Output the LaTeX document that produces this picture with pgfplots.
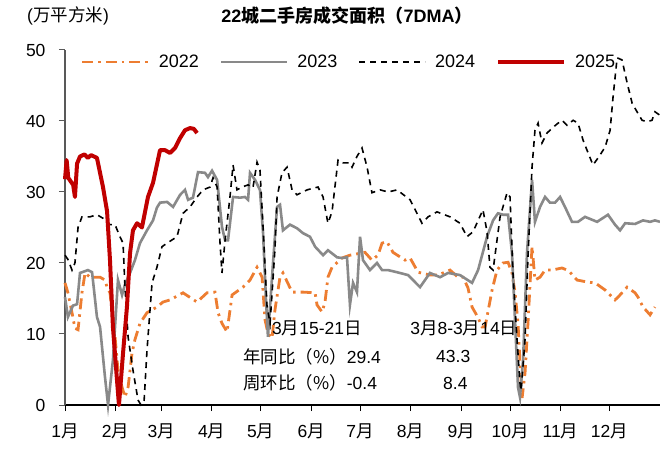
\documentclass[border=0pt]{standalone}
\usepackage{fontspec}
\setmainfont{Liberation Sans}
\newfontfamily\cjk{Noto Sans CJK SC}
\usepackage{pgfplots}
\pgfplotsset{compat=1.18}
\definecolor{c22}{HTML}{ED7D31}
\definecolor{c23}{HTML}{898989}
\definecolor{c25}{HTML}{C00000}
\definecolor{axgray}{HTML}{595959}

\begin{document}
\begin{tikzpicture}
\useasboundingbox (0bp,0bp) rectangle (660bp,450bp);
\begin{axis}[
    at={(65bp,45bp)}, anchor=south west,
    scale only axis, width=595bp, height=355bp,
    xmin=0, xmax=365, ymin=0, ymax=50,
    axis x line=bottom, axis y line=left,
    x axis line style={-, black, line width=1.2bp},
    y axis line style={-, axgray, line width=1.2bp},
    tick align=outside,
    major tick length=6bp,
    xtick={0,31,59,90,120,151,181,212,243,273,304,334},
    xticklabels={1{\cjk 月},2{\cjk 月},3{\cjk 月},4{\cjk 月},5{\cjk 月},6{\cjk 月},7{\cjk 月},8{\cjk 月},9{\cjk 月},10{\cjk 月},11{\cjk 月},12{\cjk 月}},
    x tick style={black, line width=1bp},
    y tick style={axgray, line width=1bp},
    ytick={0,10,...,50},
    xticklabel style={font=\fontsize{17.5bp}{19bp}\selectfont, yshift=-9bp},
    yticklabel style={font=\fontsize{17.5bp}{19bp}\selectfont, xshift=-10bp},
    /pgf/number format/assume math mode=true,
    clip=false,
    legend columns=4,
    legend image code/.code={\draw[#1] (0bp,0bp) -- (66bp,0bp);},
    legend style={at={(axis cs:9.8,48.3)}, anchor=west, draw=none, fill=none,
        inner sep=0pt, outer sep=0pt,
        font=\fontsize{18bp}{20bp}\selectfont,
        nodes={inner sep=4bp},
        /tikz/every odd column/.append style={column sep=5bp},
        /tikz/every even column/.append style={column sep=17bp}},
]

\addplot[c22, line width=2.8bp, dash pattern=on 11bp off 5bp on 2.5bp off 5bp] coordinates {
(0,17.2)(1.8,15.8)(4.3,13.0)(6.1,10.8)(8,10.6)(10.4,15.8)(12.3,18.6)(15.3,18.0)(21.5,18.0)
(24.5,17.6)(25.8,16.6)(27.6,15.8)(30.7,9.6)(32.5,4.9)(35,2.5)(36.8,1.1)(38.7,2.5)(41.1,7.3)
(42.9,9.2)(46,11.5)(50.3,13.0)(56.4,13.8)(60.1,14.5)(64.4,14.8)(72.4,15.8)(81,14.5)(87.1,15.8)
(92,15.9)(93.9,13.0)(96.3,11.5)(99.4,10.3)(102.5,15.5)(109.2,16.6)(113.5,17.6)(117.8,19.4)
(120.9,18.0)(122.7,12.0)(124.5,10.1)(127,9.4)(128.8,13.4)(131.9,18.0)(133.7,18.6)(139.3,15.9)
(146,15.9)(153.4,15.8)(154.6,14.1)(157.7,13.1)(159.5,14.5)(161.3,18.0)(163.8,19.4)(169.9,20.7)
(174.8,21.1)(184,21.5)(188.3,20.4)(192,21.1)(194.5,22.8)(197.5,23.0)(201.2,21.5)(208.6,20.4)
(211.7,20.7)(216.6,18.7)(223.9,18.3)(228.8,18.3)(236.2,19.0)(241.1,18.0)(244.2,18.0)(247.2,16.5)
(249.7,13.8)(253.4,12.3)(255.8,11.0)(257.7,11.0)(262,16.2)(265,19.0)(268.7,20.0)(271.8,20.1)
(274.2,18.6)(276.1,15.8)(277.9,11.5)(279.1,6.0)(280.4,1.0)(282.2,4.5)(284,11.5)(286.5,22.3)
(287.1,20.8)(288.3,17.6)(291.4,18.0)(294.5,19.0)(298.8,19.0)(304.9,19.3)(308,19.0)(309.8,18.7)
(314.1,17.6)(320.9,17.3)(325.2,17.2)(331.3,16.2)(337.4,14.8)(339.3,15.2)(344.8,16.6)(349.7,15.8)
(351.5,15.2)(354.6,13.8)(358.9,12.7)(361.9,13.8)
};
\addlegendentry{2022}

\addplot[c23, line width=2.6bp] coordinates {
(0,15.2)(1.8,12.4)(4.9,14.0)(7.4,14.2)(9.2,18.6)(14.1,19.0)(16.6,18.7)(19.6,12.4)(21.5,11.0)
(24.5,4.0)(26.4,0)(29.4,6.3)(32.5,17.6)(35,15.5)(36.8,17.0)(39.9,18.6)(42.9,20.4)(46,22.8)
(50.3,24.6)(54,26.0)(56.4,27.8)(58.3,28.5)(62.6,28.6)(66.3,27.9)(70.6,29.6)(73.6,30.3)(75.5,28.9)
(78.5,29.2)(81.6,32.8)(85.9,32.7)(87.7,32.1)(90.2,33.0)(93.3,31.7)(96.3,25.1)(98.2,23.2)
(100,23.2)(103.1,29.3)(107.4,29.2)(110.4,29.3)(112.3,28.9)(113.5,32.7)(116.6,31.7)(119.6,30.3)
(121.5,24.2)(123.3,14.8)(124.5,9.6)(127.6,20.0)(130.1,27.9)(131.9,28.2)(133.7,24.6)(138,25.4)
(142.3,24.9)(146,24.2)(150.3,23.7)(153.4,22.3)(158.3,21.1)(161.3,21.8)(166.9,20.8)(169.9,20.7)
(173,20.8)(174.8,14.1)(176.7,17.2)(179.1,15.9)(181,23.7)(182.8,20.4)(187.1,19.0)(191.4,20.0)
(194.5,19.0)(198.2,19.0)(203.7,18.7)(210.4,18.3)(217.8,16.6)(223.9,18.6)(230.1,18.0)(235,18.6)
(242.3,18.3)(249.7,17.2)(253.4,19.0)(258.9,23.7)(262.6,26.0)(265.6,27.0)(268.7,26.8)(271.8,26.8)
(274.2,21.4)(277.9,2.5)(279.1,1.1)(281,6.3)(283.4,21.4)(286.5,31.7)(288.3,25.8)(291.4,27.9)
(294.5,29.3)(297.5,28.5)(300.6,28.5)(303.7,29.3)(306.7,27.9)(311,25.8)(314.7,25.8)(319,26.5)
(326.4,25.8)(333.1,26.8)(337.4,25.4)(340.5,24.6)(343.6,25.6)(349.7,25.5)(354.6,26.0)(358.9,25.8)
(361.9,26.0)(365,25.8)
};
\addlegendentry{2023}

\addplot[black, line width=1.6bp, dash pattern=on 6bp off 5bp] coordinates {
(0,21.1)(1.8,20.5)(4.3,19.0)(6.1,20.0)(8,25.0)(10.4,26.5)(15.3,26.5)(19.6,26.8)(23.3,26.3)
(27.6,25.4)(30.7,25.4)(33.7,23.7)(35.6,22.8)(36.8,16.6)(38.7,9.6)(41.7,4.9)(44.8,0.7)(46.6,0)
(48.5,0.5)(50.3,7.7)(53.4,17.2)(56.4,19.4)(59.5,22.3)(62.6,22.8)(68.7,23.7)(72.4,27.0)(76.7,27.9)
(81,29.3)(84.7,30.3)(89,30.7)(90.8,32.0)(93.3,30.7)(95.1,22.8)(96.3,18.6)(98.2,23.2)(101.2,29.3)
(103.1,33.8)(105.5,30.3)(108.6,30.7)(112.3,31.0)(115.3,30.6)(117.8,34.2)(119.6,33.1)(121.5,25.1)
(123.9,14.0)(125.8,11.5)(128.8,22.0)(130.1,29.3)(133.1,32.7)(136.2,33.5)(139.3,30.3)(142.3,29.6)
(148.5,30.3)(155.2,30.7)(158.3,29.3)(161.3,25.6)(163.8,27.2)(167.5,34.5)(170.6,34.1)(174.8,34.1)
(176.1,33.5)(179.1,35.0)(182.2,36.2)(185.3,33.5)(188.3,29.9)(193.3,30.3)(198.2,30.0)(203.7,30.3)
(211.7,28.9)(219,25.6)(222.7,26.5)(228.2,27.2)(236.2,26.5)(242.3,25.6)(246.6,23.7)(250.3,24.4)
(256.4,27.5)(258.9,24.4)(260.7,19.4)(262.6,19.0)(265,23.2)(266.9,26.5)(271.2,29.9)(273,29.3)
(274.8,18.6)(277.3,9.2)(279.1,3.1)(279.8,2.0)(282.2,9.2)(284,20.8)(286.5,33.5)(288.3,38.7)
(290.2,39.7)(292.6,36.9)(295.7,38.3)(298.8,39.0)(302.5,39.7)(304.9,40.1)(308,39.4)(311.7,40.1)
(314.7,39.7)(317.8,37.3)(320.9,35.5)(323.9,33.8)(327,34.8)(331.3,36.3)(334.4,38.7)(336.2,43.4)
(338.7,48.9)(341.7,48.6)(344.8,45.4)(347.9,42.5)(350.9,41.3)(354,40.1)(357.1,39.9)(360.1,40.1)
(361.9,41.3)(365,40.8)
};
\addlegendentry{2024}

\addplot[c25, line width=4bp, line join=round] coordinates {
(0,31.8)(1,34.5)(2,32.0)(3.5,31.5)(5,31.0)(6.1,29.3)(7.4,34.0)(9.2,35.0)(12,35.3)(14,34.8)
(16,35.2)(19.6,34.8)(23.3,30.7)(25.8,27.3)(27.6,20.4)(29.4,11.0)(31.9,3.5)(33.1,0)(35.6,7.3)
(38,13.8)(39.9,21.4)(41.7,24.6)(44.2,25.6)(47.2,25.0)(50.9,29.3)(54,31.3)(58.3,35.9)(61.3,35.9)
(64.4,35.5)(67.5,36.2)(70.6,37.6)(73.6,38.7)(76.7,39.0)(79,38.9)(81,38.3)
};
\addlegendentry{2025}

\begin{scope}[font=\fontsize{17.5bp}{19bp}\selectfont]
\node[anchor=west, inner sep=0pt] at (axis cs:127,10.8) {3{\cjk 月}15-21{\cjk 日}};
\node[anchor=west, inner sep=0pt] at (axis cs:211.7,10.8) {3{\cjk 月}8-3{\cjk 月}14{\cjk 日}};
\node[anchor=west, inner sep=0pt] at (axis cs:109.2,6.8) {{\cjk 年同比（\%）}29.4};
\node[anchor=west, inner sep=0pt] at (axis cs:109.2,3.1) {{\cjk 周环比（\%）}-0.4};
\node[anchor=west, inner sep=0pt] at (axis cs:227.6,6.8) {43.3};
\node[anchor=west, inner sep=0pt] at (axis cs:231.9,3.1) {8.4};
\end{scope}
\end{axis}
\node[anchor=west, inner sep=0pt, font=\fontsize{17.5bp}{19bp}\selectfont] at (27bp,434bp) {({\cjk 万平方米})};
\node[inner sep=0pt, font=\fontsize{18bp}{20bp}\selectfont\bfseries] at (347bp,434bp) {22{\cjk 城二手房成交面积（}7DMA{\cjk ）}};
\end{tikzpicture}
\end{document}
